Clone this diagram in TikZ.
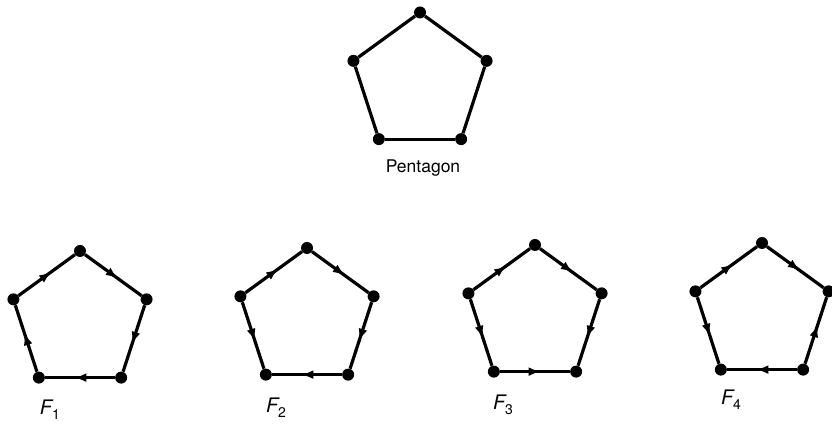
\documentclass[tikz,border=0pt]{standalone}
\usepackage{fontspec}
\setmainfont{TeX Gyre Heros}
\usetikzlibrary{decorations.markings,arrows.meta}
\tikzset{
 edgeline/.style={line width=3.2pt},
 arr/.style={edgeline, postaction={decorate}, decoration={markings, mark=at position 0.58 with {\arrow{Latex[length=12pt,width=9pt]}}}},
 vdot/.style={circle, fill=black, inner sep=0pt, minimum size=12pt},
 lab/.style={font=\fontsize{17.5}{20}\selectfont, inner sep=0pt},
}
\newcommand{\flab}[1]{{\fontsize{20}{22}\selectfont\itshape F}\raisebox{-0.55ex}{\fontsize{14}{14}\selectfont #1}}
\begin{document}
\begin{tikzpicture}[x=1pt,y=1pt]
\useasboundingbox (0,0) rectangle (832,435);
\foreach \n/\cx/\cy in {P/420/352.5, A/80/114, B/307/117, C/535/120, D/762/122} {
  \node[vdot] (\n t)  at ([shift={(\cx,\cy)}]90:70) {};
  \node[vdot] (\n r)  at ([shift={(\cx,\cy)}]18:70) {};
  \node[vdot] (\n br) at ([shift={(\cx,\cy)}]-54:70) {};
  \node[vdot] (\n bl) at ([shift={(\cx,\cy)}]-126:70) {};
  \node[vdot] (\n l)  at ([shift={(\cx,\cy)}]162:70) {};
}
% plain pentagon
\draw[edgeline] (Pt) -- (Pr);
\draw[edgeline] (Pr) -- (Pbr);
\draw[edgeline] (Pbr) -- (Pbl);
\draw[edgeline] (Pbl) -- (Pl);
\draw[edgeline] (Pl) -- (Pt);
% F1
\draw[arr] (Al) -- (At);
\draw[arr] (At) -- (Ar);
\draw[arr] (Ar) -- (Abr);
\draw[arr] (Abr) -- (Abl);
\draw[arr] (Abl) -- (Al);
% F2
\draw[arr] (Bl) -- (Bt);
\draw[arr] (Bt) -- (Br);
\draw[arr] (Br) -- (Bbr);
\draw[arr] (Bbr) -- (Bbl);
\draw[arr] (Bl) -- (Bbl);
% F3
\draw[arr] (Cl) -- (Ct);
\draw[arr] (Ct) -- (Cr);
\draw[arr] (Cr) -- (Cbr);
\draw[arr] (Cbl) -- (Cbr);
\draw[arr] (Cl) -- (Cbl);
% F4
\draw[arr] (Dl) -- (Dt);
\draw[arr] (Dt) -- (Dr);
\draw[arr] (Dbr) -- (Dr);
\draw[arr] (Dbr) -- (Dbl);
\draw[arr] (Dl) -- (Dbl);
% labels
\node[lab] (pent) at (423,267) {Pentagon};
\node[lab] (f1) at (50,25) {\flab{1}};
\node[lab] (f2) at (276,27) {\flab{2}};
\node[lab] (f3) at (503,30) {\flab{3}};
\node[lab] (f4) at (731,35) {\flab{4}};
\end{tikzpicture}
\end{document}
